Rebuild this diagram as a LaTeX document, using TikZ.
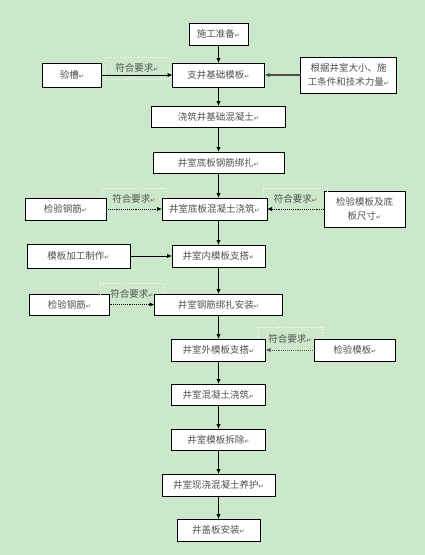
\documentclass[tikz,border=0pt]{standalone}
\usepackage{fontspec}
\newfontfamily\cjk{Noto Sans CJK SC}
\newfontfamily\dejavu{DejaVu Sans}
\usetikzlibrary{arrows.meta, positioning}
\definecolor{paper}{HTML}{CCE8CB}
\definecolor{ink}{HTML}{505050}
\newcommand\crmark{{\dejavu\fontsize{6}{6}\selectfont\color{ink}↵}}

\begin{document}
\begin{tikzpicture}[x=1pt, y=-1pt,
  font=\cjk\fontsize{9.5}{14}\selectfont,
  b/.style={draw=black, fill=white, line width=1pt, align=center,
            inner sep=2pt, outer sep=0pt, minimum height=22pt, text=ink},
  q/.style={draw=white, dotted, line width=0.8pt, minimum width=64pt,
            minimum height=21pt, inner sep=0pt, outer sep=0pt, text=ink},
  ar/.style={-{Latex[length=5pt, width=4.5pt]}, line width=0.9pt},
  dar/.style={ar, densely dotted},
  node distance=24pt]

\fill[paper] (0,0) rectangle (425,555);

% main column
\node[b, minimum width=59pt] (s0) at (218.5,34) {施工准备\crmark};
\node[b, minimum width=92pt, minimum height=24pt, below=18pt of s0] (s1) {支井基础模板\crmark};
\node[b, minimum width=134pt, minimum height=21pt, below=19pt of s1] (s2) {浇筑井基础混凝土\crmark};
\node[b, minimum width=131pt, minimum height=21pt, below=25pt of s2] (s3) {井室底板钢筋绑扎\crmark};
\node[b, minimum width=105pt, below=25pt of s3, xshift=-4pt] (s4) {井室底板混凝土浇筑\crmark};
\node[b, minimum width=93pt, below=25pt of s4, xshift=4pt] (s5) {井室内模板支搭\crmark};
\node[b, minimum width=128pt, minimum height=21pt, below=27pt of s5] (s6) {井室钢筋绑扎安装\crmark};
\node[b, minimum width=94pt, below=24pt of s6] (s7) {井室外模板支搭\crmark};
\node[b, minimum width=94pt, minimum height=21pt, below=23pt of s7] (s8) {井室混凝土浇筑\crmark};
\node[b, minimum width=94pt, minimum height=21pt, below=24pt of s8] (s9) {井室模板拆除\crmark};
\node[b, minimum width=113pt, below=24pt of s9] (s10) {井室现浇混凝土养护\crmark};
\node[b, minimum width=83pt, below=23pt of s10] (s11) {井盖板安装\crmark};

% side boxes
\node[b, minimum width=59pt, minimum height=24pt, left=71pt of s1] (l1) {验槽\crmark};
\node[b, minimum width=96pt, minimum height=36pt, right=36pt of s1] (r1) {根据井室大小、施\\工条件和技术力量\crmark};
\node[b, minimum width=81pt, left=56pt of s4] (l4) {检验钢筋\crmark};
\node[b, minimum width=81pt, minimum height=36pt, right=57pt of s4] (r4) {检验模板及底\\板尺寸\crmark};
\node[b, minimum width=103pt, minimum height=24pt, left=42pt of s5] (l5) {模板加工制作\crmark};
\node[b, minimum width=80pt, minimum height=21pt, left=45pt of s6] (l6) {检验钢筋\crmark};
\node[b, minimum width=81pt, right=49pt of s7] (r7) {检验模板\crmark};

% flow
\draw[ar] (s0) -- (s1);
\draw[ar] (s1) -- (s2);
\draw[ar] (s2) -- (s3);
\draw[ar] (s3) -- (s3 |- s4.north);
\draw[ar] (s4.south -| s5) -- (s5);
\draw[ar] (s5) -- (s6);
\draw[ar] (s6) -- (s7);
\draw[ar] (s7) -- (s8);
\draw[ar] (s8) -- (s9);
\draw[ar] (s9) -- (s10);
\draw[ar] (s10) -- (s11);

% checks
\draw[ar] (l1) -- node[q, behind path, yshift=7pt, minimum height=22pt]{符合要求\crmark} (s1);
\draw[ar, line width=1.6pt, draw=gray!60!black] (r1) -- (s1);
\draw[dar] (l4) -- node[q, above, behind path]{符合要求\crmark} (s4);
\draw[dar] (r4) -- node[q, above, behind path]{符合要求\crmark} (s4);
\draw[ar] (l5) -- (s5);
\draw[dar] (l6) -- node[q, above, behind path]{符合要求\crmark} (s6);
\draw[dar, draw=gray!70!black] (r7) -- node[q, above, behind path, minimum height=23pt]{符合要求\crmark} (s7);
\end{tikzpicture}
\end{document}
